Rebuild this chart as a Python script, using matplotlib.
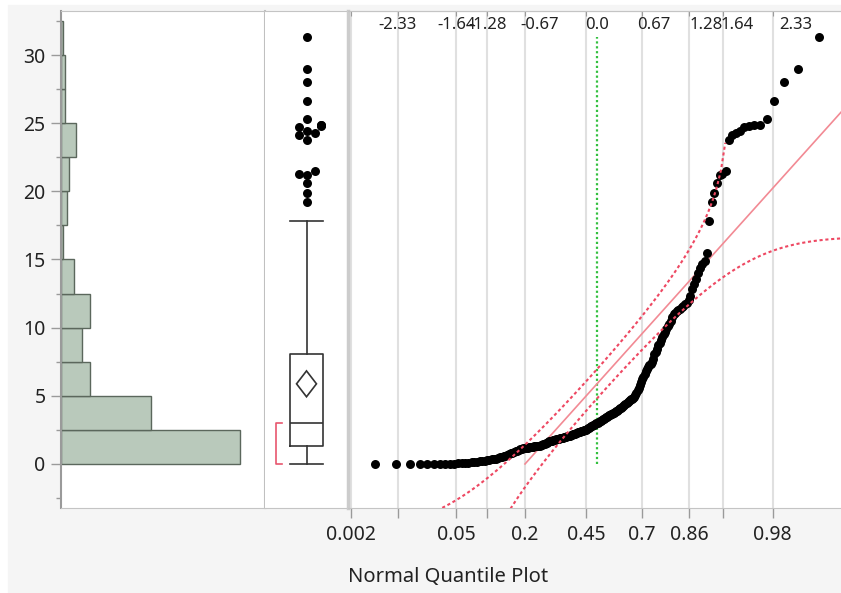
import numpy as np
import matplotlib.pyplot as plt
from matplotlib.patches import Polygon, Rectangle
from matplotlib.ticker import MultipleLocator
from matplotlib.transforms import blended_transform_factory
from statistics import NormalDist

plt.rcParams['font.family'] = ['Noto Sans', 'DejaVu Sans']

vals_0_25 = [
    0.00, 0.00, 0.01, 0.01, 0.01, 0.02, 0.02, 0.02, 0.03, 0.03,
    0.04, 0.05, 0.07, 0.09, 0.12, 0.15, 0.17, 0.20, 0.22, 0.25,
    0.28, 0.31, 0.34, 0.37, 0.40, 0.44, 0.48, 0.52, 0.57, 0.62,
    0.67, 0.72, 0.77, 0.82, 0.87, 0.92, 0.97, 1.02, 1.07, 1.12,
    1.14, 1.16, 1.18, 1.20, 1.22, 1.24, 1.26, 1.28, 1.30, 1.31,
    1.32, 1.33, 1.34, 1.36, 1.39, 1.43, 1.47, 1.52, 1.57, 1.62,
    1.66, 1.69, 1.72, 1.74, 1.77, 1.79, 1.82, 1.84, 1.86, 1.88,
    1.90, 1.92, 1.94, 1.96, 1.98, 2.00, 2.03, 2.06, 2.08, 2.11,
    2.14, 2.17, 2.20, 2.23, 2.26, 2.29, 2.32, 2.35, 2.38, 2.41,
    2.43, 2.45, 2.47, 2.49,
]
vals_25_5 = [
    2.52, 2.57, 2.62, 2.67, 2.72, 2.77, 2.81, 2.85, 2.89, 2.93, 2.97,
    3.02, 3.07, 3.12, 3.17, 3.22, 3.27, 3.32, 3.37, 3.42, 3.47,
    3.52, 3.56, 3.60, 3.64, 3.68, 3.72, 3.77, 3.82, 3.87, 3.92, 3.97, 4.02,
    4.08, 4.14, 4.20, 4.26, 4.32, 4.38, 4.45, 4.52, 4.59, 4.66, 4.73, 4.80,
    4.87, 4.94,
]
vals_5_15 = [
    5.05, 5.2, 5.4, 5.6, 5.8, 6.0, 6.2, 6.4, 6.6, 6.8, 6.95, 7.1, 7.25, 7.35, 7.45,
    7.7, 8.05, 8.25, 8.45, 8.7, 8.9, 9.1, 9.3, 9.5, 9.7, 9.9,
    10.1, 10.3, 10.5, 10.8, 11.0, 11.1, 11.2, 11.3, 11.4, 11.5, 11.6, 11.7, 11.8,
    12.0, 12.3,
    12.8, 13.2, 13.6, 14.0, 14.4, 14.7, 14.9,
]
vals_upper = [
    15.5, 17.8, 19.2, 19.9, 20.6, 21.2, 21.3, 21.5,
    23.8, 24.1, 24.3, 24.4, 24.7, 24.8, 24.9, 24.9,
    25.3, 26.6, 28.0, 29.0, 31.3,
]

prob_ticks = [0.002, 0.01, 0.05, 0.1, 0.2, 0.45, 0.7, 0.86, 0.93, 0.98]
prob_labels = ['0.002', '', '0.05', '', '0.2', '0.45', '0.7', '0.86', '', '0.98']
z_ticks = [-2.33, -1.64, -1.28, -0.67, 0.0, 0.67, 1.28, 1.64, 2.33]
z_labels = ['-2.33', '-1.64', '-1.28', '-0.67', '0.0', '0.67', '1.28', '1.64', '2.33']
bin_width = 2.5

data = np.array(vals_0_25 + vals_25_5 + vals_5_15 + vals_upper)
n = len(data)
nd = NormalDist()
zq = np.array([nd.inv_cdf(i / (n + 1)) for i in range(1, n + 1)])
mu = data.mean()
sd = data.std(ddof=1)

W, H = 841, 593
fig = plt.figure(figsize=(W / 100, H / 100), dpi=100, facecolor='white')
fig.patches.append(Rectangle((8 / W, 0), 1, 1 - 5 / H, transform=fig.transFigure,
                             color='#f5f5f5', zorder=-10))


def rect(x0, x1, y0=11, y1=508):
    return [x0 / W, 1 - y1 / H, (x1 - x0) / W, (y1 - y0) / H]


ax_h = fig.add_axes(rect(61, 265))
ax_b = fig.add_axes(rect(265, 348), sharey=ax_h)
ax_q = fig.add_axes(rect(348, 841), sharey=ax_h)
ax_h.set_ylim(-3.23, 33.23)

# histogram
bins = np.arange(0, data.max() + bin_width, bin_width)
counts, _, _ = ax_h.hist(data, bins=bins, orientation='horizontal',
                         color='#b9c9bb', edgecolor='#5b675c', linewidth=1)
ax_h.set_xlim(0, counts.max() * 204 / 179)
ax_h.set_yticks(range(0, 31, 5))
ax_h.yaxis.set_minor_locator(MultipleLocator(2.5))
ax_h.tick_params(axis='y', which='major', length=7, width=1, color='#9a9a9a',
                 labelsize=14, labelcolor='#222222', pad=4)
ax_h.tick_params(axis='y', which='minor', length=3.5, width=1, color='#9a9a9a')
ax_h.tick_params(axis='x', bottom=False, labelbottom=False)
ax_h.spines['left'].set_color('#9a9a9a')
ax_h.spines['left'].set_linewidth(1.5)
ax_h.spines['right'].set_color('#c0c0c0')
ax_h.spines['right'].set_linewidth(1.5)
for s in ['top', 'bottom']:
    ax_h.spines[s].set_color('#c4c4c4')

# box plot (quantiles at rank (n+1)p, as JMP does)
q1, med, q3 = np.percentile(data, [25, 50, 75], method='weibull')
iqr = q3 - q1
whishi = data[data <= q3 + 1.5 * iqr].max()
whislo = data[data >= q1 - 1.5 * iqr].min()
outliers = data[(data > whishi) | (data < whislo)]
line_kw = dict(color='#333333', linewidth=1.2)
ax_b.bxp([dict(med=med, q1=q1, q3=q3, whislo=whislo, whishi=whishi, fliers=[])],
         positions=[0.5], widths=0.4, capwidths=[0.4], showfliers=False,
         boxprops=line_kw, whiskerprops=line_kw, capprops=line_kw,
         medianprops=line_kw, manage_ticks=False)

ci = 1.97 * sd / np.sqrt(n)
ax_b.add_patch(Polygon([(0.5, mu + ci), (0.62, mu), (0.5, mu - ci), (0.38, mu)],
                       closed=True, fill=False, edgecolor='#333333', linewidth=1.2))

# shortest half bracket
h = int(np.ceil(n / 2))
spans = data[h - 1:] - data[:n - h + 1]
j = int(np.argmin(spans))
lo, hi = data[j], data[j + h - 1]
ax_b.plot([0.2, 0.135, 0.135, 0.2], [hi, hi, lo, lo], color='#e8566e', lw=1.2)

# outliers, stacked so they don't overlap
ypx = 497 / (33.23 + 3.23)
placed = []
for v in np.sort(outliers):
    for off in [0, -8, 8, -11, 11, -14, 14]:
        if all((off - po) ** 2 + ((v - pv) * ypx) ** 2 >= 8.0 ** 2 for po, pv in placed):
            break
    placed.append((off, v))
ax_b.scatter([0.5 + po / 83 for po, _ in placed], [pv for _, pv in placed],
             s=42, color='black', linewidths=0, zorder=3)
ax_b.set_xlim(0, 1)
ax_b.tick_params(which='both', left=False, labelleft=False, bottom=False, labelbottom=False)
ax_b.spines['left'].set_visible(False)
ax_b.spines['right'].set_visible(False)
for s in ['top', 'bottom']:
    ax_b.spines[s].set_color('#c4c4c4')

# normal quantile plot
ax_q.set_xlim(-(597 - 348) / 85.5, (841 - 597) / 85.5)
grid_z = [nd.inv_cdf(p) for p in prob_ticks]
for g in grid_z:
    ax_q.axvline(g, color='#e0e0e0', lw=1.5, zorder=0)
ax_q.set_xticks(grid_z)
ax_q.set_xticklabels(prob_labels)
ax_q.tick_params(axis='x', length=7, width=1, color='#9a9a9a', labelsize=14,
                 labelcolor='#222222', pad=5)
ax_q.tick_params(axis='y', which='both', left=False, labelleft=False)
top = ax_q.secondary_xaxis('top')
top.set_xticks(grid_z)
top.tick_params(direction='in', length=3.5, color='#9a9a9a', labeltop=False)
top.spines['top'].set_color('#c4c4c4')

tr = blended_transform_factory(ax_q.transData, ax_q.transAxes)
for zt, lab in zip(z_ticks, z_labels):
    ax_q.text(zt, 0.972, lab, transform=tr, ha='center', va='center',
              fontsize=12, color='#222222')

# fitted line and Lilliefors confidence bands
z0 = (data.min() - mu) / sd
z1 = ax_q.get_xlim()[1]
ax_q.plot([z0, z1], [mu + sd * z0, mu + sd * z1], color='#f28a94', lw=1.2, zorder=2)
D = 0.886 / np.sqrt(n)
grid = np.arange(-3.0, 3.0, 0.05)
p = np.array([nd.cdf(g) for g in grid])
up = p + D < 1
dn = p - D > 0
y_up = mu + sd * np.array([nd.inv_cdf(v) for v in p[up] + D])
y_dn = mu + sd * np.array([nd.inv_cdf(v) for v in p[dn] - D])
band_kw = dict(color='#ee4862', lw=1.5, ls=(0, (1.5, 1.3)), zorder=4)
ax_q.plot(grid[up], y_up, **band_kw)
ax_q.plot(grid[dn], y_dn, **band_kw)

ax_q.plot([0, 0], [data.min(), data.max()], color='#33c03f', lw=1.6,
          ls=(0, (1, 1.2)), zorder=1)
ax_q.scatter(zq, data, s=42, color='black', linewidths=0, zorder=3)

ax_q.spines['right'].set_visible(False)
ax_q.spines['left'].set_color('#cccccc')
ax_q.spines['left'].set_linewidth(2.5)
for s in ['top', 'bottom']:
    ax_q.spines[s].set_color('#c4c4c4')

fig.text(348 / W, 1 - 577 / H, 'Normal Quantile Plot', ha='left', va='center',
         fontsize=14.5, color='#222222')

fig.savefig('out.png', dpi=100, facecolor=fig.get_facecolor())
